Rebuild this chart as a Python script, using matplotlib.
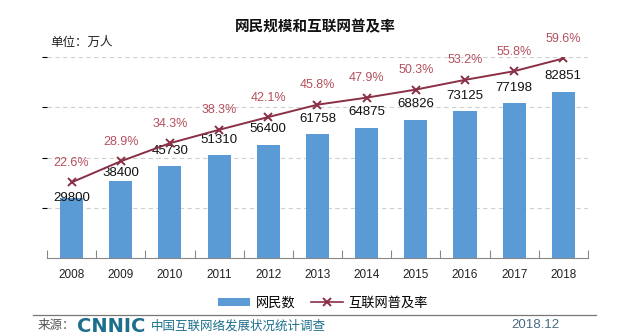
import matplotlib
matplotlib.use("Agg")
import matplotlib.pyplot as plt
from matplotlib.lines import Line2D
from matplotlib.patches import Patch

plt.rcParams['font.family'] = ['Liberation Sans', 'Noto Sans CJK SC', 'DejaVu Sans']

years = ['2008', '2009', '2010', '2011', '2012', '2013', '2014', '2015', '2016', '2017', '2018']
netizens = [29800, 38400, 45730, 51310, 56400, 61758, 64875, 68826, 73125, 77198, 82851]  # 万人
rate = [22.6, 28.9, 34.3, 38.3, 42.1, 45.8, 47.9, 50.3, 53.2, 55.8, 59.6]  # %

# vertical offset (points) of the count labels above each bar
count_offsets = [0, 6, 11, 11, 11, 11, 11, 11, 11, 11, 11]

bar_color = '#5B9BD5'
line_color = '#8A2F45'
pct_color = '#B4505C'
teal = '#1E6F8C'

fig = plt.figure(figsize=(6.21, 3.36), dpi=100)
ax = fig.add_axes([0.0757, 0.232, 0.871, 0.598])
x = list(range(len(years)))

ax.bar(x, netizens, width=0.47, color=bar_color, zorder=2)
ax.set_xlim(-0.5, len(years) - 0.5)
ax.set_ylim(0, 100000)
ax.set_yticks([25000, 50000, 75000, 100000])
ax.yaxis.grid(True, linestyle=(0, (4, 3)), color='#d0d0d0', linewidth=0.8, zorder=0)
ax.tick_params(axis='y', left=False, labelleft=False)

ax.set_xticks(x)
ax.set_xticklabels(years, fontsize=8.5, color='#222222')
ax.tick_params(axis='x', which='major', length=0, pad=8)
ax.set_xticks([i - 0.5 for i in range(len(years) + 1)], minor=True)
ax.tick_params(axis='x', which='minor', direction='in', length=6, color='#888888', width=0.8)
for side in ('top', 'left', 'right'):
    ax.spines[side].set_visible(False)
ax.spines['bottom'].set_color('#888888')
ax.spines['bottom'].set_linewidth(0.8)

for xi, v, off in zip(x, netizens, count_offsets):
    ax.annotate(str(v), (xi, v), xytext=(0, off), textcoords='offset points',
                ha='center', va='center', fontsize=9.5, color='#111111', zorder=4)

# 普及率 on a second scale
ax2 = ax.twinx()
ax2.set_ylim(0, 60)
ax2.plot(x, rate, color=line_color, linewidth=1.4, marker='x', markersize=6,
         markeredgewidth=1.4, zorder=3)
ax2.axis('off')
for xi, r in zip(x, rate):
    ax2.annotate(f'{r:.1f}%', (xi, r), xytext=(0, 14), textcoords='offset points',
                 ha='center', va='center', fontsize=9, color=pct_color)

fig.text(0.507, 0.918, '网民规模和互联网普及率', ha='center', va='center',
         fontsize=10.5, fontweight='bold', color='#111111')
fig.text(0.081, 0.872, '单位：万人', ha='left', va='center', fontsize=9, color='#222222')

handles = [Patch(facecolor=bar_color, edgecolor='none'),
           Line2D([], [], color=line_color, linewidth=1.2, marker='x', markersize=6,
                  markeredgewidth=1.4)]
fig.legend(handles, ['网民数', '互联网普及率'], loc='center', bbox_to_anchor=(0.52, 0.098),
           ncol=2, frameon=False, fontsize=9.5, handlelength=2.4, handleheight=0.6,
           columnspacing=1.2, handletextpad=0.4)

# footer
fig.add_artist(Line2D([33 / 621, 596 / 621], [1 - 315 / 336] * 2, color='#777777', linewidth=0.9))
fig.text(38 / 621, 1 - 326 / 336, '来源：', ha='left', va='center', fontsize=9, color='#555555')
fig.text(77 / 621, 1 - 326 / 336, 'CNNIC', ha='left', va='center', fontsize=14,
         fontweight='bold', color=teal, family='DejaVu Sans')
fig.text(151 / 621, 1 - 326 / 336, '中国互联网络发展状况统计调查', ha='left', va='center',
         fontsize=9, color=teal)
fig.text(535 / 621, 1 - 325 / 336, '2018.12', ha='center', va='center', fontsize=9.5,
         color='#4a6a80')

fig.savefig('out.png', dpi=100)
